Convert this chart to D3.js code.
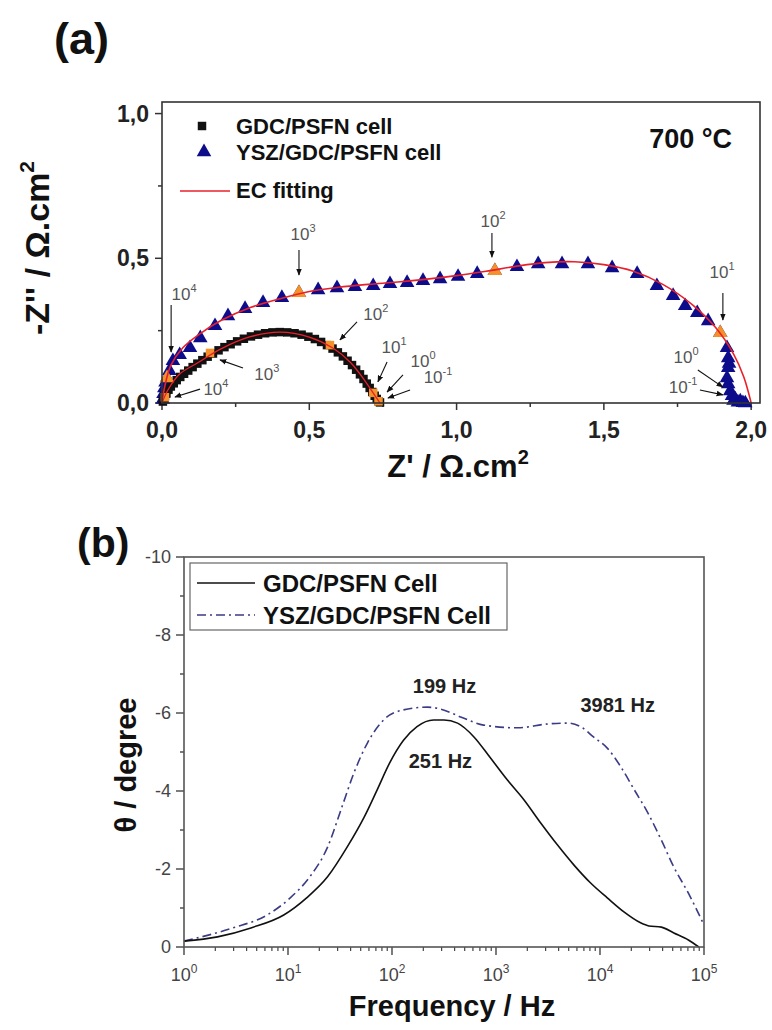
<!DOCTYPE html>
<html><head><meta charset="utf-8">
<script src="https://cdn.jsdelivr.net/npm/d3@7"></script>
<style>
body{margin:0;background:#fff}
svg{display:block}
text{font-family:"Liberation Sans",Arial,Helvetica,sans-serif}
</style>
</head><body>
<svg id="c" width="772" height="1030"></svg>
<script>
// ---------------- Panel (a) data: Nyquist ----------------
const gdcZre = [0.003,0.006,0.01,0.015,0.022,0.03,0.04,0.05,0.062,0.075,0.089,0.104,0.12,0.137,0.155,0.173,0.192,0.212,0.233,0.255,0.278,0.302,0.326,0.35,0.375,0.40,0.425,0.45,0.474,0.497,0.519,0.54,0.56,0.579,0.597,0.614,0.63,0.645,0.659,0.672,0.684,0.695,0.705,0.714,0.722,0.729,0.735,0.74];
const gdcZim = [0.005,0.015,0.025,0.035,0.046,0.057,0.068,0.079,0.09,0.101,0.112,0.124,0.136,0.148,0.16,0.171,0.182,0.193,0.203,0.213,0.222,0.23,0.236,0.241,0.244,0.245,0.244,0.241,0.236,0.229,0.221,0.211,0.2,0.188,0.175,0.161,0.146,0.131,0.115,0.099,0.083,0.067,0.052,0.038,0.025,0.014,0.006,0.002];
const yszZre = [0.003,0.005,0.008,0.012,0.017,0.025,0.037,0.06,0.095,0.13,0.18,0.224,0.282,0.343,0.407,0.465,0.53,0.594,0.655,0.717,0.774,0.832,0.886,0.944,1.005,1.07,1.13,1.205,1.277,1.358,1.446,1.528,1.613,1.68,1.735,1.776,1.817,1.854,1.895,1.918,1.922,1.925,1.922,1.918,1.922,1.929,1.935,1.94,1.946,1.955,1.963,1.972,1.98];
const yszZim = [0.015,0.035,0.055,0.075,0.09,0.115,0.149,0.17,0.194,0.228,0.27,0.304,0.329,0.35,0.367,0.384,0.394,0.401,0.405,0.408,0.415,0.419,0.426,0.432,0.44,0.45,0.46,0.474,0.484,0.484,0.484,0.47,0.45,0.408,0.374,0.339,0.315,0.287,0.246,0.194,0.159,0.14,0.125,0.09,0.069,0.045,0.028,0.012,0.017,0.006,0.01,0.004,0.003];
const fitGdcZre = [0,0.02,0.06,0.12,0.2,0.3,0.4,0.5,0.58,0.64,0.69,0.72,0.74];
const fitGdcZim = [0,0.045,0.1,0.138,0.187,0.229,0.245,0.228,0.19,0.14,0.075,0.03,0];
const fitYszZre = [0,0.01,0.03,0.07,0.13,0.2,0.3,0.4,0.5,0.6,0.7,0.8,0.9,1.0,1.1,1.2,1.3,1.4,1.5,1.6,1.7,1.8,1.88,1.94,1.975,2.0];
const fitYszZim = [0,0.06,0.13,0.19,0.24,0.285,0.33,0.36,0.385,0.4,0.41,0.418,0.428,0.44,0.455,0.472,0.485,0.488,0.478,0.455,0.41,0.34,0.26,0.17,0.09,0];
// highlighted (decade) frequency points
const gdcMarkZre = [0.01,0.163,0.57,0.717,0.735];
const gdcMarkZim = [0.02,0.173,0.2,0.035,0.006];
const yszMarkZre = [0.017,0.465,1.13,1.895];
const yszMarkZim = [0.09,0.384,0.46,0.246];
// frequency annotations (exponent of 10, label pos, arrow from -> to), in data units
const annExp  = ["4","3","2","1","0","-1","4","3","2","1","0","-1"];
const annTx   = [0.075,0.479,1.124,1.901,1.779,1.769, 0.183,0.356,0.726,0.788,0.886,0.937];
const annTy   = [0.356,0.563,0.608,0.432,0.138,0.035, 0.028,0.079,0.287,0.173,0.124,0.069];
const annAx1  = [0.031,0.465,1.12,1.904,1.819,1.826, 0.129,0.275,0.662,0.764,0.818,0.842];
const annAy1  = [0.339,0.529,0.587,0.38,0.114,0.045, 0.048,0.121,0.28,0.142,0.097,0.045];
const annAx2  = [0.031,0.465,1.12,1.904,1.904,1.904, 0.044,0.197,0.604,0.733,0.764,0.767];
const annAy2  = [0.176,0.442,0.504,0.287,0.055,0.028, 0.021,0.149,0.218,0.073,0.038,0.017];
const aXTicks = [0,0.5,1.0,1.5,2.0];
const aYTicks = [0,0.5,1.0];

// ---------------- Panel (b) data: Bode phase ----------------
const gdcFreq  = [1,2.1,4.4,9.1,15.1,24,37,54,72,95,129,174,251,316,427,617,871,1288,1862,2692,3890,5623,8128,11749,16982,24547,29512,38905,51286,70795,89125];
const gdcTheta = [-0.15,-0.26,-0.49,-0.82,-1.26,-1.8,-2.56,-3.33,-4.03,-4.72,-5.3,-5.65,-5.82,-5.82,-5.74,-5.38,-4.87,-4.28,-3.77,-3.18,-2.62,-2.1,-1.64,-1.26,-0.9,-0.62,-0.54,-0.51,-0.36,-0.18,0];
const yszFreq  = [1,2.95,6.3,10.5,16.2,24,33,43,58,83,129,219,295,457,759,1622,3162,4898,6607,8710,11749,15849,21380,28840,38905,51286,70795,97724];
const yszTheta = [-0.15,-0.49,-0.82,-1.26,-1.8,-2.56,-3.59,-4.46,-5.23,-5.82,-6.08,-6.15,-6.1,-5.9,-5.69,-5.62,-5.72,-5.74,-5.64,-5.38,-5.1,-4.62,-4.03,-3.44,-2.74,-2.05,-1.38,-0.62];
const bXTickExp = [0,1,2,3,4,5];
const bYTicks = [0,-2,-4,-6,-8,-10];
const peakLabels = ["199 Hz","3981 Hz","251 Hz"];
const peakLabFreq = [320,14800,292];
const peakLabTheta = [-6.51,-6.03,-4.59];

// ---------------- drawing ----------------
const svg = d3.select("#c");
const defs = svg.append("defs");
defs.append("marker").attr("id","ah").attr("viewBox","0 0 10 10").attr("refX",9).attr("refY",5)
  .attr("markerWidth",7).attr("markerHeight",7).attr("markerUnits","userSpaceOnUse").attr("orient","auto")
  .append("path").attr("d","M0,1 L10,5 L0,9 Z").attr("fill","#111");

const comma = v => d3.format(".1f")(v).replace(".", ",");

// ===== Panel (a) =====
const xA = d3.scaleLinear().domain([0,2.03]).range([162,760]);
const yA = d3.scaleLinear().domain([0,1.04]).range([403,102]);
const gA = svg.append("g");

svg.append("text").attr("x",54).attr("y",54).attr("font-size",45).attr("font-weight","bold").attr("fill","#111").text("(a)");

// ticks
gA.append("g").selectAll("line").data(d3.range(0,2.01,0.25)).join("line")
  .attr("x1",d=>xA(d)).attr("x2",d=>xA(d)).attr("y1",403)
  .attr("y2",(d,i)=> i%2===0 ? 410 : 407).attr("stroke","#333").attr("stroke-width",1.5);
gA.append("g").selectAll("line").data(d3.range(0,1.01,0.25)).join("line")
  .attr("y1",d=>yA(d)).attr("y2",d=>yA(d)).attr("x1",162)
  .attr("x2",(d,i)=> i%2===0 ? 155 : 158).attr("stroke","#333").attr("stroke-width",1.5);
gA.append("g").selectAll("text").data(aXTicks).join("text")
  .attr("x",d=>xA(d)).attr("y",438).attr("text-anchor","middle").attr("font-size",23)
  .attr("font-weight","bold").attr("fill","#222").text(comma);
gA.append("g").selectAll("text").data(aYTicks).join("text")
  .attr("x",149).attr("y",d=>yA(d)+8).attr("text-anchor","end").attr("font-size",23)
  .attr("font-weight","bold").attr("fill","#222").text(comma);

// axis titles
const xt = gA.append("text").attr("x",458).attr("y",477).attr("text-anchor","middle")
  .attr("font-size",31).attr("font-weight","bold").attr("fill","#111");
xt.append("tspan").text("Z' / Ω.cm");
xt.append("tspan").attr("dy",-13).attr("font-size",20).text("2");
const yt = gA.append("text").attr("transform","translate(49,248) rotate(-90)").attr("text-anchor","middle")
  .attr("font-size",34).attr("font-weight","bold").attr("fill","#111");
yt.append("tspan").text("-Z'' / Ω.cm");
yt.append("tspan").attr("dy",-15).attr("font-size",21).text("2");

// data markers
const tri = d3.symbol().type(d3.symbolTriangle).size(92);
const sq = d3.symbol().type(d3.symbolSquare).size(72);
const yszPts = yszZre.map((v,i)=>[v,yszZim[i]]);
const gdcPts = gdcZre.map((v,i)=>[v,gdcZim[i]]);
gA.append("g").selectAll("path").data(yszPts).join("path")
  .attr("d",tri).attr("transform",d=>`translate(${xA(d[0])},${yA(d[1])+1})`).attr("fill","#0d0d8c");
gA.append("g").selectAll("path").data(gdcPts).join("path")
  .attr("d",sq).attr("transform",d=>`translate(${xA(d[0])},${yA(d[1])})`).attr("fill","#111");
// highlighted points
gA.append("g").selectAll("path").data(yszMarkZre.map((v,i)=>[v,yszMarkZim[i]])).join("path")
  .attr("d",tri).attr("transform",d=>`translate(${xA(d[0])},${yA(d[1])+1})`).attr("fill","#f5912a");
gA.append("g").selectAll("path").data(gdcMarkZre.map((v,i)=>[v,gdcMarkZim[i]])).join("path")
  .attr("d",sq).attr("transform",d=>`translate(${xA(d[0])},${yA(d[1])})`).attr("fill","#f5912a");

// fit lines
const lineA = d3.line().x(d=>xA(d[0])).y(d=>yA(d[1])).curve(d3.curveCatmullRom.alpha(0.5));
gA.append("path").datum(fitYszZre.map((v,i)=>[v,fitYszZim[i]])).attr("d",lineA)
  .attr("fill","none").attr("stroke","#e8202a").attr("stroke-width",1.6);
gA.append("path").datum(fitGdcZre.map((v,i)=>[v,fitGdcZim[i]])).attr("d",lineA)
  .attr("fill","none").attr("stroke","#e8202a").attr("stroke-width",1.3);

// frame
gA.append("rect").attr("x",162).attr("y",102).attr("width",598).attr("height",301)
  .attr("fill","none").attr("stroke","#333").attr("stroke-width",1.6);

// annotations
const annG = gA.append("g");
annExp.forEach((e,i)=>{
  annG.append("line").attr("x1",xA(annAx1[i])).attr("y1",yA(annAy1[i]))
    .attr("x2",xA(annAx2[i])).attr("y2",yA(annAy2[i]))
    .attr("stroke","#111").attr("stroke-width",1.1).attr("marker-end","url(#ah)");
  const t = annG.append("text").attr("x",xA(annTx[i])).attr("y",yA(annTy[i]))
    .attr("text-anchor","middle").attr("font-size",17).attr("fill","#555");
  t.append("tspan").text("10");
  t.append("tspan").attr("dy",-8).attr("font-size",11).text(e);
});

// legend (a)
const legA = gA.append("g");
legA.append("path").attr("d",sq).attr("transform","translate(202,126)").attr("fill","#111");
legA.append("path").attr("d",tri).attr("transform","translate(204,152)").attr("fill","#0d0d8c");
legA.append("line").attr("x1",180).attr("x2",230).attr("y1",191).attr("y2",191).attr("stroke","#e8202a").attr("stroke-width",1.6);
const legAText = ["GDC/PSFN cell","YSZ/GDC/PSFN cell","EC fitting"];
legA.selectAll("text").data(legAText).join("text")
  .attr("x",236).attr("y",(d,i)=>[134,160,198][i]).attr("font-size",22).attr("font-weight","bold").attr("fill","#111").text(d=>d);
gA.append("text").attr("x",732).attr("y",148).attr("text-anchor","end").attr("font-size",27)
  .attr("font-weight","bold").attr("fill","#111").text("700 °C");

// ===== Panel (b) =====
const xB = d3.scaleLog().domain([1,1e5]).range([184,704]);
const yB = d3.scaleLinear().domain([0,-10]).range([947,557]);
const gB = svg.append("g");
svg.append("text").attr("x",77).attr("y",557).attr("font-size",41).attr("font-weight","bold").attr("fill","#111").text("(b)");

// minor & major ticks x
const xMinor = [];
for (let e=0;e<5;e++) for (let k=2;k<=9;k++) xMinor.push(k*Math.pow(10,e));
gB.append("g").selectAll("line").data(xMinor).join("line")
  .attr("x1",d=>xB(d)).attr("x2",d=>xB(d)).attr("y1",947).attr("y2",951).attr("stroke","#444").attr("stroke-width",1.2);
gB.append("g").selectAll("line").data(bXTickExp).join("line")
  .attr("x1",d=>xB(Math.pow(10,d))).attr("x2",d=>xB(Math.pow(10,d))).attr("y1",947).attr("y2",955).attr("stroke","#444").attr("stroke-width",1.4);
const xl = gB.append("g").selectAll("text").data(bXTickExp).join("text")
  .attr("x",d=>xB(Math.pow(10,d))).attr("y",981).attr("text-anchor","middle").attr("font-size",18).attr("fill","#444");
xl.append("tspan").text("10");
xl.append("tspan").attr("dy",-8).attr("font-size",12).text(d=>d);
// y ticks
gB.append("g").selectAll("line").data(d3.range(0,-10.1,-1)).join("line")
  .attr("y1",d=>yB(d)).attr("y2",d=>yB(d)).attr("x1",184)
  .attr("x2",(d,i)=> i%2===0 ? 176 : 180).attr("stroke","#444").attr("stroke-width",1.4);
gB.append("g").selectAll("text").data(bYTicks).join("text")
  .attr("x",171).attr("y",d=>yB(d)+6).attr("text-anchor","end").attr("font-size",18).attr("fill","#444").text(d=>d);

// titles
gB.append("text").attr("x",452).attr("y",1016).attr("text-anchor","middle").attr("font-size",29)
  .attr("font-weight","bold").attr("fill","#111").text("Frequency / Hz");
gB.append("text").attr("transform","translate(136,765) rotate(-90)").attr("text-anchor","middle")
  .attr("font-size",29).attr("font-weight","bold").attr("fill","#111").text("θ / degree");

// curves
const lineB = d3.line().x(d=>xB(d[0])).y(d=>yB(d[1])).curve(d3.curveMonotoneX);
gB.append("path").datum(yszFreq.map((f,i)=>[f,yszTheta[i]])).attr("d",lineB)
  .attr("fill","none").attr("stroke","#3b3b86").attr("stroke-width",1.6).attr("stroke-dasharray","9,4,2,4");
gB.append("path").datum(gdcFreq.map((f,i)=>[f,gdcTheta[i]])).attr("d",lineB)
  .attr("fill","none").attr("stroke","#111").attr("stroke-width",1.6);

// frame
gB.append("rect").attr("x",184).attr("y",557).attr("width",520).attr("height",390)
  .attr("fill","none").attr("stroke","#555").attr("stroke-width",1.6);

// peak labels
gB.append("g").selectAll("text").data(peakLabels).join("text")
  .attr("x",(d,i)=>xB(peakLabFreq[i])).attr("y",(d,i)=>yB(peakLabTheta[i]))
  .attr("text-anchor","middle").attr("font-size",20).attr("font-weight","bold").attr("fill","#222").text(d=>d);

// legend (b)
const legB = gB.append("g");
legB.append("rect").attr("x",190).attr("y",563).attr("width",317).attr("height",67)
  .attr("fill","#fff").attr("stroke","#666").attr("stroke-width",1.2);
legB.append("line").attr("x1",197).attr("x2",255).attr("y1",583).attr("y2",583).attr("stroke","#111").attr("stroke-width",1.6);
legB.append("line").attr("x1",197).attr("x2",255).attr("y1",615).attr("y2",615).attr("stroke","#3b3b86").attr("stroke-width",1.6).attr("stroke-dasharray","9,4,2,4");
const legBText = ["GDC/PSFN Cell","YSZ/GDC/PSFN Cell"];
legB.selectAll("text").data(legBText).join("text")
  .attr("x",263).attr("y",(d,i)=>592+i*32).attr("font-size",24).attr("font-weight","bold").attr("fill","#111").text(d=>d);
</script>
</body></html>
